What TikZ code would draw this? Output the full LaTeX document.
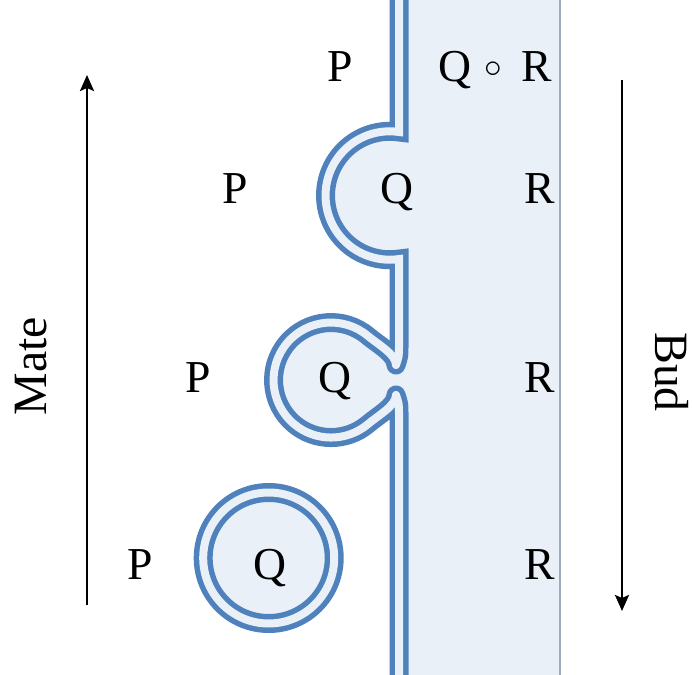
\documentclass[tikz,border=0pt]{standalone}
\usepackage{fontspec}
\setmainfont{Liberation Serif}
\usetikzlibrary{arrows.meta,positioning}
\definecolor{corazul}{RGB}{79,129,189}
\definecolor{corfundo}{RGB}{234,240,248}
\definecolor{corborda}{RGB}{160,170,186}

\begin{document}
\begin{tikzpicture}[
  x=0.1mm, y=0.1mm,
  membrana/.style={draw=corazul, line width=0.55mm, double=corfundo,
                   double distance=0.8mm},
  rotulo/.style={anchor=base, inner sep=0pt, font=\fontsize{13}{15}\selectfont},
  lado/.style={anchor=base, inner sep=0pt, font=\fontsize{13.6}{16}\selectfont},
  seta/.style={-{Stealth[length=1.6mm, width=1.4mm, inset=0.3mm]}, line width=0.25mm}
]
  \useasboundingbox (0,0) rectangle (692,-675);

  % interior da celula e dos brotos
  \fill[corfundo] (399,0) rectangle (560,-675);
  \fill[corfundo] (389.7,-195.5) circle[radius=64.2];
  \fill[corfundo] (331,-380) circle[radius=57.5];
  \fill[corfundo] (370,-345) rectangle (400,-415);
  \fill[corfundo] (268.7,-558) circle[radius=65.5];
  \draw[corborda, line width=0.2mm] (560,0) -- (560,-675);

  % membrana com os dois brotos
  \draw[membrana, line cap=round]
    (399,0) -- (399,-132)
    arc[start angle=81.7, end angle=278.3, radius=64.2]
    -- (399,-345) .. controls (399,-356) .. (396,-365)
    (396,-365) .. controls (396,-354) and (377,-343.8) .. (368,-336)
    arc[start angle=50, end angle=310, radius=57.5]
    .. controls (377,-416.2) and (396,-406) .. (396,-395)
    (396,-395) .. controls (399,-404) .. (399,-415) -- (399,-675);
  % vesicula livre
  \draw[membrana] (268.7,-558) circle[radius=65.5];

  % rotulos
  \node[rotulo] (p1) at (340,-82) {P};
  \node[rotulo] (q1) at (455,-82) {Q};
  \node[inner sep=0pt] (comp) at (493,-70) {$\circ$};
  \node[rotulo] (r1) at (537,-82) {R};

  \node[rotulo] (p2) at (235,-204) {P};
  \node[rotulo] (q2) at (397,-204) {Q};
  \node[rotulo] (r2) at (540,-204) {R};

  \node[rotulo] (p3) at (198,-392) {P};
  \node[rotulo] (q3) at (335,-392) {Q};
  \node[rotulo] (r3) at (540,-392) {R};

  \node[rotulo] (p4) at (140,-579) {P};
  \node[rotulo] (q4) at (270,-579) {Q};
  \node[rotulo] (r4) at (540,-579) {R};

  % setas laterais
  \coordinate (mateBase) at (87,-605);
  \coordinate (mateTopo) at (87,-75);
  \draw[seta] (mateBase) -- (mateTopo);
  \node[lado, rotate=90] (mate) at (47,-366) {Mate};

  \coordinate (budTopo) at (622,-80);
  \coordinate (budBase) at (622,-611);
  \draw[seta] (budTopo) -- (budBase);
  \node[lado, rotate=-90] (bud) at (655,-372) {Bud};
\end{tikzpicture}
\end{document}
